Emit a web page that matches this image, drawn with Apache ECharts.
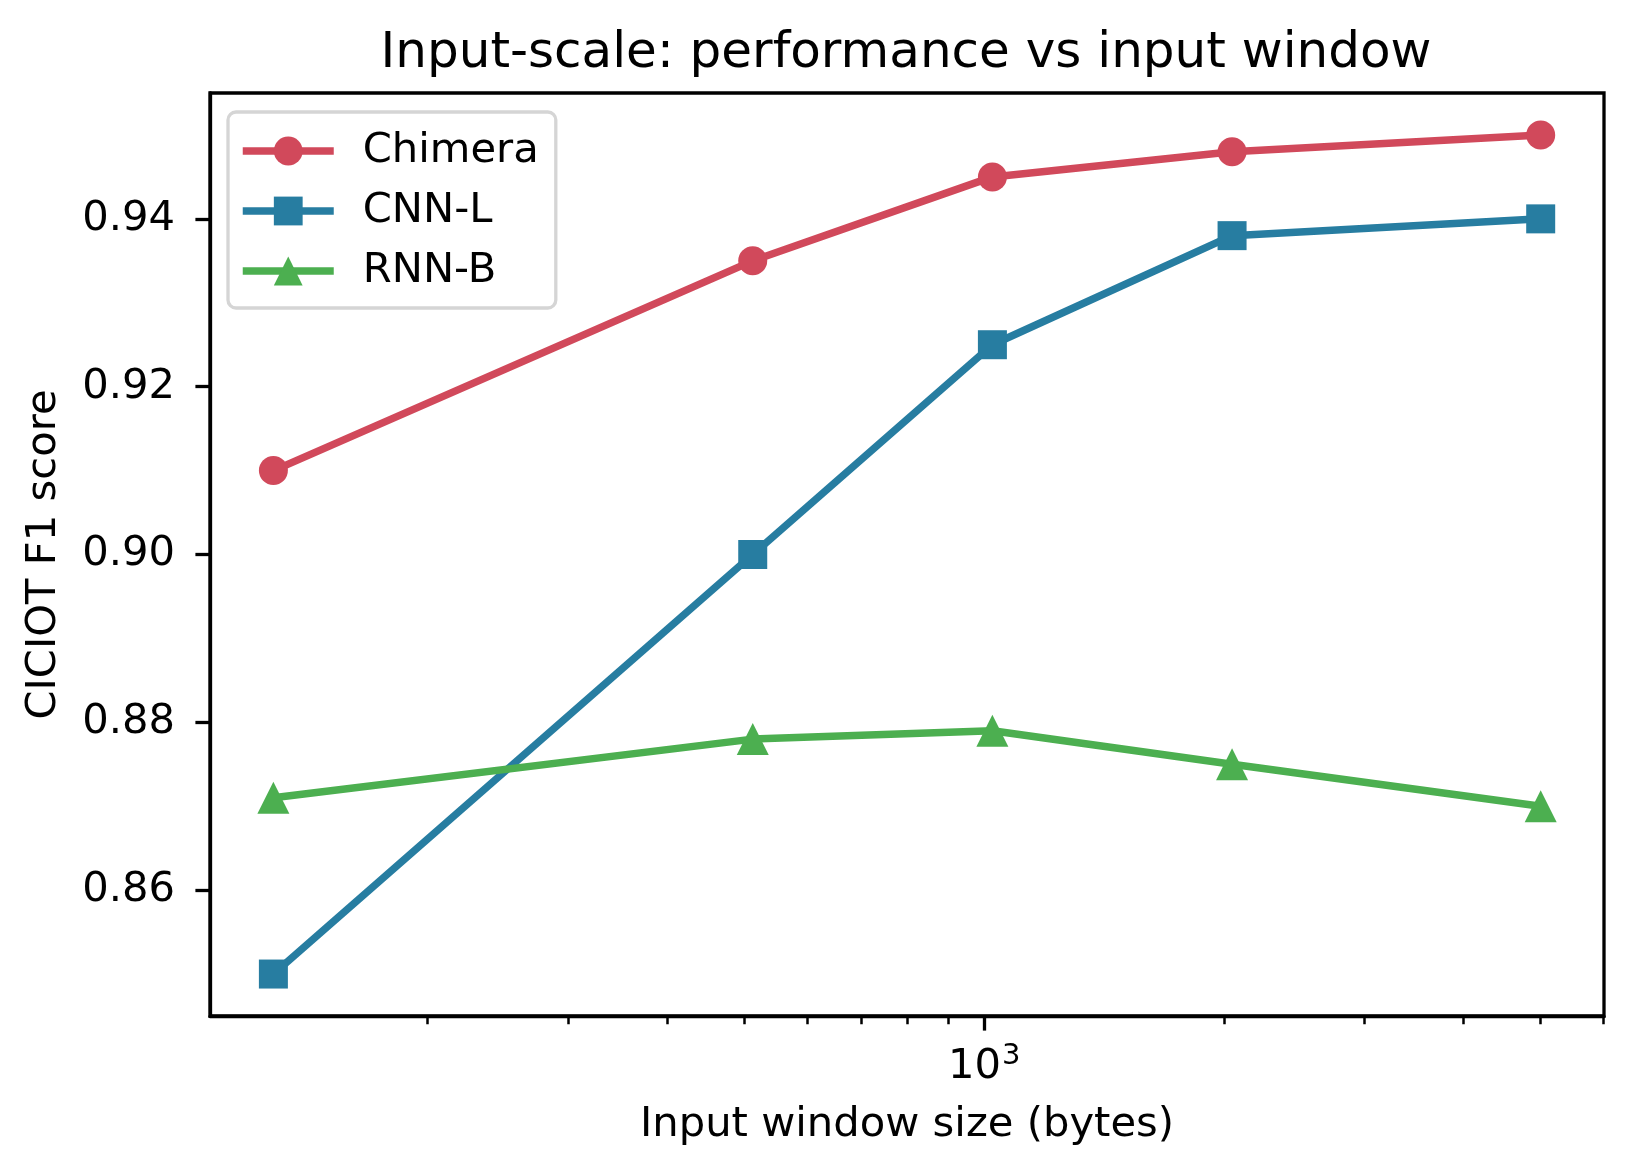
<!DOCTYPE html>
<html>
<head>
<meta charset="utf-8">
<script src="https://cdn.jsdelivr.net/npm/echarts@6/dist/echarts.min.js"></script>
<style>
html,body{margin:0;padding:0;background:#fff;}
#chart{width:1633px;height:1173px;}
</style>
</head>
<body>
<div id="chart"></div>
<script>
const windowSizes = [128, 512, 1024, 2048, 5000];
const chimera = [0.910, 0.935, 0.945, 0.948, 0.950];
const cnnL = [0.850, 0.900, 0.925, 0.938, 0.940];
const rnnB = [0.871, 0.878, 0.879, 0.875, 0.870];
const yTicks = [0.86, 0.88, 0.90, 0.92, 0.94];
const xMajorTicks = [1000];
const xMinorTicks = [200, 300, 400, 500, 600, 700, 800, 900, 2000, 3000, 4000, 5000, 6000];

const FONT = 'DejaVu Sans';
const pairs = (ys) => windowSizes.map((x, i) => [x, ys[i]]);

const chart = echarts.init(document.getElementById('chart'), null, {renderer: 'canvas'});
const xMin = 106.56, xMax = 6004.6;

const option = {
  animation: false,
  backgroundColor: '#ffffff',
  textStyle: {fontFamily: FONT},
  title: {
    text: 'Input-scale: performance vs input window',
    left: 901,
    textAlign: 'center',
    top: 24,
    textStyle: {fontFamily: FONT, fontSize: 50, fontWeight: 'normal', color: '#000'}
  },
  grid: {
    left: 210, right: 29, top: 93, bottom: 157,
    containLabel: false,
    outerBoundsMode: 'none',
    show: true,
    borderColor: '#000',
    borderWidth: 3.3,
    backgroundColor: 'transparent'
  },
  legend: {
    orient: 'vertical',
    left: 228,
    top: 112,
    itemWidth: 91,
    itemHeight: 36,
    itemGap: 14,
    padding: [16, 17, 14, 11],
    borderColor: '#d5d5d5',
    borderWidth: 3.3,
    borderRadius: 8,
    backgroundColor: '#ffffff',
    selectedMode: false,
    lineStyle: {width: 7.5},
    textStyle: {fontFamily: FONT, fontSize: 41.7, color: '#000', lineHeight: 46, padding: [0, 0, 0, 24]},
    data: ['Chimera', 'CNN-L', 'RNN-B']
  },
  xAxis: [
    {
      type: 'log',
      logBase: 10,
      min: xMin,
      max: xMax,
      position: 'bottom',
      name: 'Input window size (bytes)',
      nameLocation: 'middle',
      nameGap: 88,
      nameTextStyle: {fontFamily: FONT, fontSize: 41.7, color: '#000'},
      axisLine: {show: true, lineStyle: {color: '#000', width: 3.3}},
      axisTick: {show: true, customValues: xMajorTicks, length: 14.6, lineStyle: {color: '#000', width: 3.3}},
      axisLabel: {
        show: true,
        customValues: xMajorTicks,
        margin: 26,
        formatter: function (v) {
          const e = Math.round(Math.log10(v));
          return '{b|10}{s|' + e + '}';
        },
        rich: {
          b: {fontFamily: FONT, fontSize: 41.7, color: '#000', lineHeight: 46, verticalAlign: 'bottom'},
          s: {fontFamily: FONT, fontSize: 29, color: '#000', lineHeight: 46, verticalAlign: 'top', padding: [0, 0, 0, 1]}
        }
      },
      splitLine: {show: false},
      minorTick: {show: false},
      minorSplitLine: {show: false}
    },
    {
      type: 'log',
      logBase: 10,
      min: xMin,
      max: xMax,
      position: 'bottom',
      offset: 0,
      axisLine: {show: false},
      axisTick: {show: true, customValues: xMinorTicks, length: 8.3, lineStyle: {color: '#000', width: 2.5}},
      axisLabel: {show: false},
      splitLine: {show: false}
    }
  ],
  yAxis: {
    type: 'value',
    min: 0.845,
    max: 0.955,
    name: 'CICIOT F1 score',
    nameLocation: 'middle',
    nameGap: 145,
    nameTextStyle: {fontFamily: FONT, fontSize: 41.7, color: '#000'},
    axisLine: {show: true, lineStyle: {color: '#000', width: 3.3}},
    axisTick: {show: true, customValues: yTicks, length: 14.6, lineStyle: {color: '#000', width: 3.3}},
    axisLabel: {
      show: true,
      customValues: yTicks,
      margin: 35,
      fontFamily: FONT,
      fontSize: 41.7,
      color: '#000',
      formatter: (v) => v.toFixed(2)
    },
    splitLine: {show: false}
  },
  series: [
    {
      name: 'Chimera', type: 'line', xAxisIndex: 0,
      data: pairs(chimera),
      symbol: 'circle', symbolSize: 29,
      lineStyle: {color: '#d1495b', width: 7.5},
      itemStyle: {color: '#d1495b'},
      emphasis: {disabled: true}
    },
    {
      name: 'CNN-L', type: 'line', xAxisIndex: 0,
      data: pairs(cnnL),
      symbol: 'rect', symbolSize: 29,
      lineStyle: {color: '#277da1', width: 7.5},
      itemStyle: {color: '#277da1'},
      emphasis: {disabled: true}
    },
    {
      name: 'RNN-B', type: 'line', xAxisIndex: 0,
      data: pairs(rnnB),
      symbol: 'triangle', symbolSize: 32,
      lineStyle: {color: '#4caf50', width: 7.5},
      itemStyle: {color: '#4caf50'},
      emphasis: {disabled: true}
    }
  ]
};
chart.setOption(option);
</script>
</body>
</html>
